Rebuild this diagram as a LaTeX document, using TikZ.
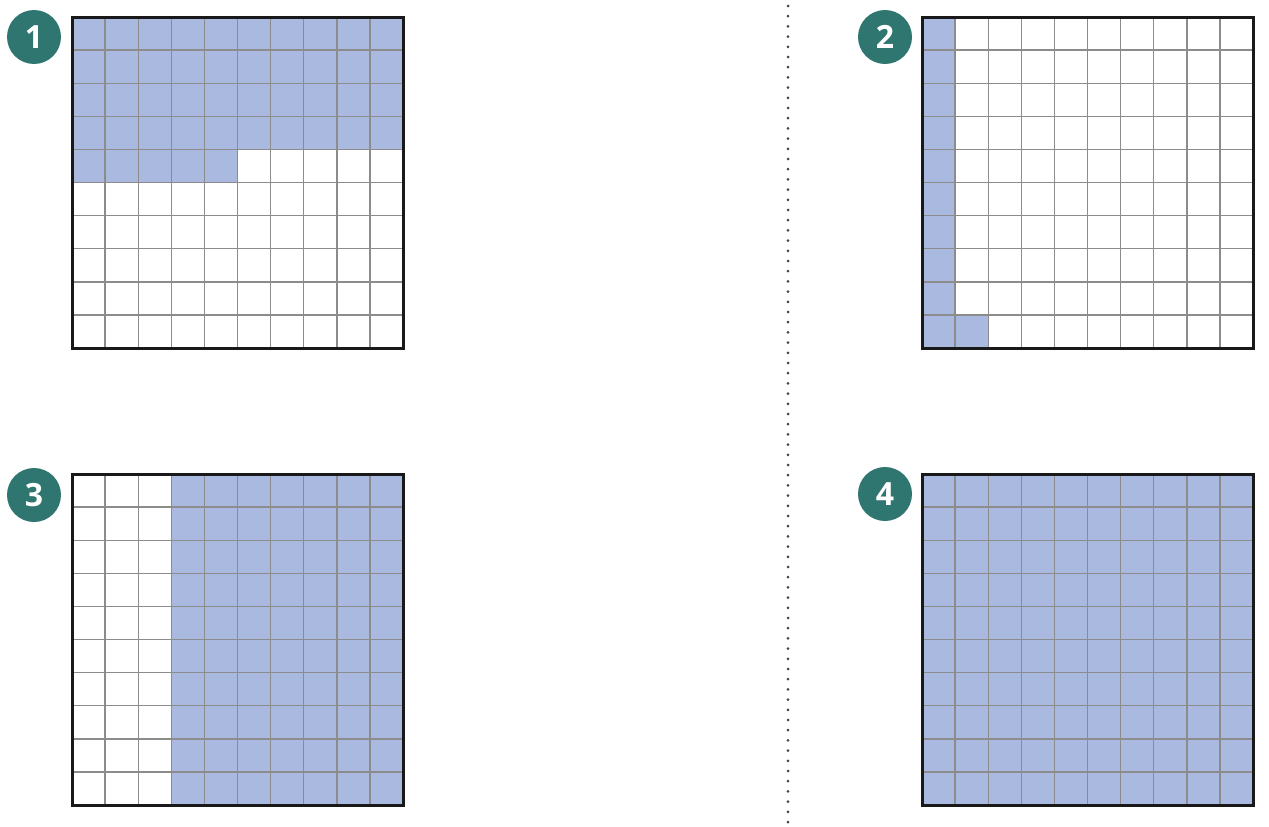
\documentclass[tikz,border=0pt]{standalone}
\usepackage{fontspec}
\setmainfont{Open Sans}
\definecolor{teal}{HTML}{2F7570}
\definecolor{cellblue}{HTML}{A9B9DF}
\definecolor{gridgray}{HTML}{8C8C8C}
\definecolor{dotgray}{HTML}{444444}
\begin{document}
\begin{tikzpicture}[x=1pt,y=-1pt,
  badge/.style={circle,fill=teal,minimum size=54pt,inner sep=0pt,text=white,font=\fontsize{32}{32}\selectfont\bfseries},
  gridline/.style={draw=gridgray,line width=1.4pt},
  frame/.style={draw=black!90,line width=3pt},
  shade/.style={fill=cellblue},
  sep/.style={draw=dotgray,line width=3pt,line cap=round,dash pattern=on 0pt off 10.2pt}]
\useasboundingbox (0,0) rectangle (1269,827);
\def\cs{33.1}
% grid 1 (45)
\begin{scope}[shift={(72,17)}]
  \fill[shade] (0,0) rectangle (10*\cs,4*\cs);
  \fill[shade] (0,4*\cs) rectangle (5*\cs,5*\cs);
  \foreach \i in {1,...,9} {\draw[gridline] (\i*\cs,0) -- (\i*\cs,10*\cs); \draw[gridline] (0,\i*\cs) -- (10*\cs,\i*\cs);}
  \draw[frame] (0,0) rectangle (10*\cs,10*\cs);
\end{scope}
% grid 2 (11)
\begin{scope}[shift={(922,17)}]
  \fill[shade] (0,0) rectangle (\cs,10*\cs);
  \fill[shade] (\cs,9*\cs) rectangle (2*\cs,10*\cs);
  \foreach \i in {1,...,9} {\draw[gridline] (\i*\cs,0) -- (\i*\cs,10*\cs); \draw[gridline] (0,\i*\cs) -- (10*\cs,\i*\cs);}
  \draw[frame] (0,0) rectangle (10*\cs,10*\cs);
\end{scope}
% grid 3 (70)
\begin{scope}[shift={(72,474)}]
  \fill[shade] (3*\cs,0) rectangle (10*\cs,10*\cs);
  \foreach \i in {1,...,9} {\draw[gridline] (\i*\cs,0) -- (\i*\cs,10*\cs); \draw[gridline] (0,\i*\cs) -- (10*\cs,\i*\cs);}
  \draw[frame] (0,0) rectangle (10*\cs,10*\cs);
\end{scope}
% grid 4 (100)
\begin{scope}[shift={(922,474)}]
  \fill[shade] (0,0) rectangle (10*\cs,10*\cs);
  \foreach \i in {1,...,9} {\draw[gridline] (\i*\cs,0) -- (\i*\cs,10*\cs); \draw[gridline] (0,\i*\cs) -- (10*\cs,\i*\cs);}
  \draw[frame] (0,0) rectangle (10*\cs,10*\cs);
\end{scope}
% badges
\node[badge] (b1) at (34,37) {1};
\node[badge] (b2) at (885,37) {2};
\node[badge] (b3) at (34,495) {3};
\node[badge] (b4) at (885,494) {4};
% separator
\coordinate (s1) at (788,6);
\coordinate (s2) at (788,827);
\draw[sep] (s1) -- (s2);
\end{tikzpicture}
\end{document}
